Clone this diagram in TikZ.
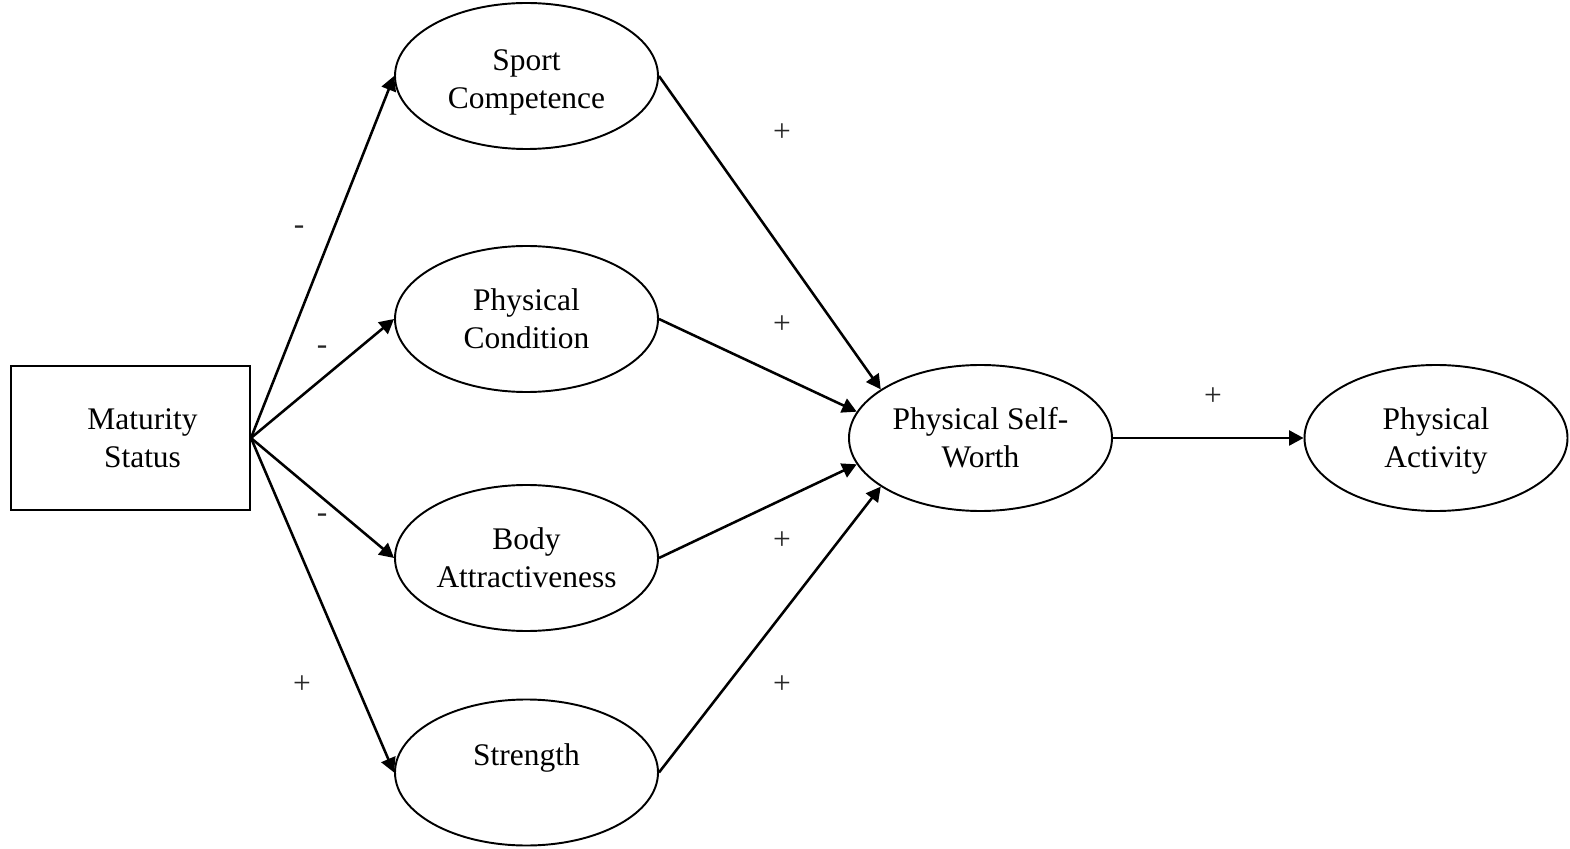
\documentclass[tikz,border=0pt]{standalone}
\usepackage{fontspec}
\setmainfont{Liberation Serif}
\usetikzlibrary{shapes.geometric,arrows.meta,positioning}
\tikzset
{
    construct/.style = {ellipse, draw=black, line width=1.1pt, align=center, minimum width=5.26cm, minimum height=2.92cm, inner sep=0pt},
    observed/.style  = {rectangle, draw=black, line width=1.1pt, minimum width=4.78cm, minimum height=2.88cm},
    arrow/.style     = {line width=1.45pt, ->, >={Triangle[length=0.29cm,width=0.3cm]}},
    sign/.style      = {inner sep=0pt, text=black!85}
}

\begin{document}
\begin{tikzpicture}[font=\fontsize{17.9}{21.6}\selectfont]

   \useasboundingbox (0,0) rectangle (31.4,-16.98);

   \node (ms)   [observed]   at (2.61, -8.76)   {};
   \node (mst)  [align=center] at ([xshift=0.24cm]ms) {Maturity\\Status};

   \node (sc)   [construct]  at (10.53, -1.52)  {\rule{0pt}{0.67cm}Sport\\Competence};
   \node (pc)   [construct]  at (10.53, -6.38)  {Physical\\Condition};
   \node (ba)   [construct]  at (10.53, -11.16) {Body\\Attractiveness};
   \node (st)   [construct]  at (10.53, -15.45) {Strength\rule[-0.73cm]{0pt}{0.73cm}};
   \node (psw)  [construct]  at (19.61, -8.76)  {Physical Self-\\Worth};
   \node (pa)   [construct]  at (28.72, -8.76)  {\rule{0pt}{0.55cm}Physical\\Activity};

   %% signs of the paths
   \node (s1) [sign] at (5.98, -4.60)  {-};
   \node (s2) [sign] at (6.44, -7.00)  {-};
   \node (s3) [sign] at (6.44, -10.36) {-};
   \node (s4) [sign] at (6.04, -13.70) {+};
   \node (s5) [sign] at (15.64, -2.66) {+};
   \node (s6) [sign] at (15.64, -6.50) {+};
   \node (s7) [sign] at (15.64, -10.82) {+};
   \node (s8) [sign] at (15.64, -13.70) {+};
   \node (s9) [sign] at (24.26, -7.94) {+};

   \path
      (ms.east)  edge[arrow]  node {} (sc.west)
      (ms.east)  edge[arrow]  node {} (pc.west)
      (ms.east)  edge[arrow]  node {} (ba.west)
      (ms.east)  edge[arrow]  node {} (st.west)
      (sc.east)  edge[arrow]  node {} (psw.154)
      (pc.east)  edge[arrow]  node {} (psw.168)
      (ba.east)  edge[arrow]  node {} (psw.192)
      (st.east)  edge[arrow]  node {} (psw.206)
      (psw.east) edge[arrow]  node {} (pa.west);
\end{tikzpicture}
\end{document}
